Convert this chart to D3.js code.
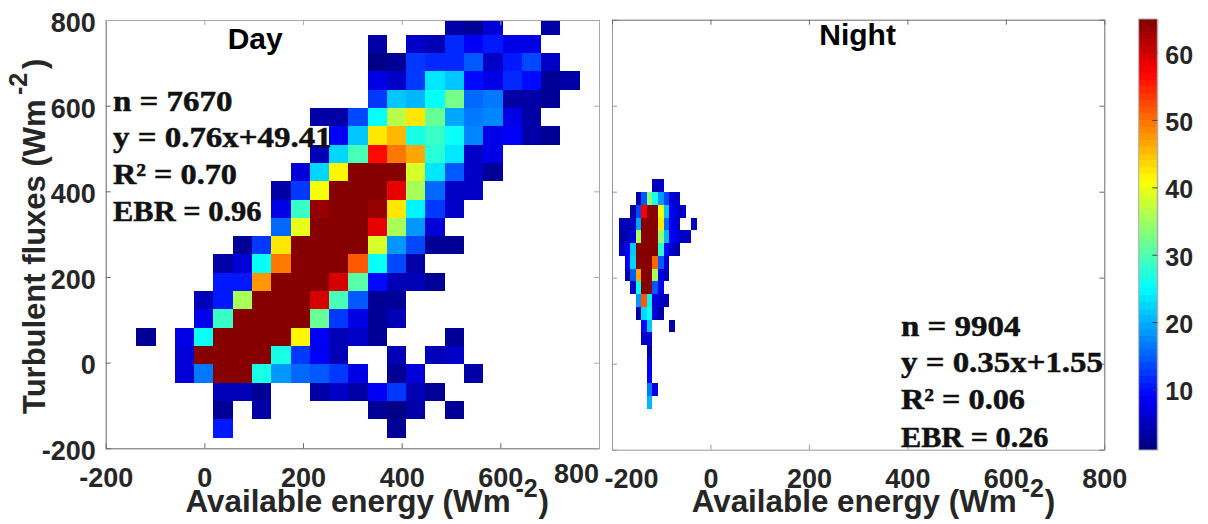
<!DOCTYPE html>
<html>
<head>
<meta charset="utf-8">
<script src="https://cdn.jsdelivr.net/npm/d3@7"></script>
<style>
  html, body { margin: 0; padding: 0; background: #fff; }
  svg { display: block; }
  text { font-family: "Liberation Sans", Arial, sans-serif; font-weight: bold; fill: #262626; }
  .note { font-family: "Liberation Serif", serif; font-size: 30px; fill: #111; stroke: #111; stroke-width: 0.5px; }
</style>
</head>
<body>
<script>
// tick labels
var axisTicks = [-200, 0, 200, 400, 600, 800];
var colorTicks = [10, 20, 30, 40, 50, 60];

// bin layout of the 2d histograms, in data units
var dayXStart = -137.97, dayBinW = 39.08, dayYTop = 808.5, dayBinH = 42.77;
var nightXStart = -208.4, nightBinW = 11.31, nightYTop = 428.8, nightBinH = 29.65;

// counts per bin, top row first, 0 = empty bin
var dayCounts = [
  [0,0,0,0,0,0,0,0,0,0,0,0,0,0,0,0,3,2,6,0,0,3,0],
  [0,0,0,0,0,0,0,0,0,0,0,0,3,0,5,4,11,8,10,7,7,0,0],
  [0,0,0,0,0,0,0,0,0,0,0,0,1,2,12,11,11,14,5,10,13,5,0],
  [0,0,0,0,0,0,0,0,0,0,0,0,7,5,12,23,21,9,7,11,9,2,3],
  [0,0,0,0,0,0,0,0,0,0,0,0,12,21,20,25,32,15,16,3,3,2,0],
  [0,0,0,0,0,0,0,0,0,3,3,13,25,36,42,31,19,16,17,7,3,0,0],
  [0,0,0,0,0,0,0,0,0,0,8,21,42,45,26,28,25,17,7,8,3,2,0],
  [0,0,0,0,0,0,0,0,0,4,22,29,56,49,46,27,23,5,7,0,0,0,0],
  [0,0,0,0,0,0,0,0,6,22,41,65,65,65,38,23,14,5,2,0,0,0,0],
  [0,0,0,0,0,0,0,3,12,40,65,65,65,58,35,15,5,5,0,0,0,0,0],
  [0,0,0,0,0,0,0,7,28,63,65,65,63,42,24,12,5,0,0,0,0,0,0],
  [0,0,0,0,0,0,0,15,39,65,65,65,58,35,18,6,0,0,0,0,0,0,0],
  [0,0,0,0,0,2,12,42,65,65,65,65,38,18,13,2,2,0,0,0,0,0,0],
  [0,0,0,0,3,6,25,49,65,65,65,51,25,13,3,0,0,0,0,0,0,0,0],
  [0,0,0,0,10,10,47,65,65,65,59,30,9,4,4,2,0,0,0,0,0,0,0],
  [0,0,0,4,10,35,65,65,65,59,29,14,2,2,0,0,0,0,0,0,0,0,0],
  [0,0,0,7,28,65,65,65,65,31,12,7,2,4,0,0,0,0,0,0,0,0,0],
  [2,0,7,25,65,65,65,65,41,8,4,5,2,0,0,0,2,0,0,0,0,0,0],
  [0,0,6,65,65,65,65,26,12,8,4,0,0,4,0,4,5,0,0,0,0,0,0],
  [0,0,6,16,65,65,26,18,15,14,12,7,0,2,6,0,0,3,0,0,0,0,0],
  [0,0,0,0,4,4,2,0,0,3,5,3,8,12,4,2,0,0,0,0,0,0,0],
  [0,0,0,0,2,0,3,0,0,0,0,0,2,1,3,0,2,0,0,0,0,0,0],
  [0,0,0,0,10,0,0,0,0,0,0,0,0,2,0,0,0,0,0,0,0,0,0]
];

var nightCounts = [
  [0,0,0,0,0,0,0,0,4,5,0,0,0,0,0,0],
  [0,0,0,0,0,3,14,33,26,18,13,6,5,0,0,0],
  [0,0,0,0,3,13,57,65,65,40,21,8,5,5,0,0],
  [7,0,4,4,5,19,65,65,65,42,15,8,5,0,0,5],
  [0,0,3,4,6,35,65,65,65,34,20,8,6,5,5,0],
  [0,0,5,8,21,65,65,65,65,27,9,5,3,0,0,0],
  [0,0,0,8,22,65,65,65,50,14,6,0,0,0,0,0],
  [0,0,0,3,14,46,65,65,35,7,4,0,0,0,0,0],
  [0,0,0,0,5,25,65,65,14,8,0,0,0,0,0,0],
  [0,0,0,0,0,18,51,24,6,5,4,0,0,0,0,0],
  [0,0,0,0,0,3,22,25,6,3,0,0,0,0,0,0],
  [0,0,0,0,0,0,9,21,0,0,0,3,0,0,0,0],
  [0,0,0,0,0,0,5,6,0,0,0,0,0,0,0,0],
  [0,0,0,0,0,0,0,3,0,0,0,0,0,0,0,0],
  [0,0,0,0,0,0,0,8,0,0,0,0,0,0,0,0],
  [0,0,0,0,0,0,0,8,0,0,0,0,0,0,0,0],
  [0,0,0,0,0,0,0,16,7,0,0,0,0,0,0,0],
  [0,0,0,0,0,0,0,20,0,0,0,0,0,0,0,0]
];

var dayNotes = ['n = 7670', 'y = 0.76x+49.41', 'R² = 0.70', 'EBR = 0.96'];
var nightNotes = ['n = 9904', 'y = 0.35x+1.55', 'R² = 0.06', 'EBR = 0.26'];


var w = 1208;
var h = 524;

var svg = d3.select('body')
  .append('svg')
  .attr('width', w)
  .attr('height', h);

// matlab jet, 64 levels over 1..65
var clip01 = function(v) { return Math.max(0, Math.min(1, v)); };
var jetLevels = d3.range(64).map(function(i) {
  var t = (i + 0.5) / 64;
  return d3.rgb(
    255 * clip01(1.5 - Math.abs(4 * t - 3)),
    255 * clip01(1.5 - Math.abs(4 * t - 2)),
    255 * clip01(1.5 - Math.abs(4 * t - 1))
  ).formatHex();
});
var color = d3.scaleQuantize().domain([1, 65]).range(jetLevels);

// plain hyphen in the labels, like the figure
var plainLabel = function(d) { return String(d); };

var drawPanel = function(p) {
  var x = d3.scaleLinear().domain([-200, 800]).range([p.left, p.right]).clamp(true);
  var y = d3.scaleLinear().domain([-200, 800]).range([p.bottom, p.top]).clamp(true);

  // flatten the matrix, keep filled bins only
  var cells = [];
  p.counts.forEach(function(row, r) {
    row.forEach(function(v, c) {
      if (v > 0) cells.push({r: r, c: c, v: v});
    });
  });

  var g = svg.append('g');

  g.selectAll('rect')
    .data(cells)
    .enter()
    .append('rect')
    .attr('x', function(d) { return x(p.xStart + d.c * p.binW); })
    .attr('width', function(d) { return x(p.xStart + (d.c + 1) * p.binW) - x(p.xStart + d.c * p.binW); })
    .attr('y', function(d) { return y(p.yTop - d.r * p.binH); })
    .attr('height', function(d) { return y(p.yTop - (d.r + 1) * p.binH) - y(p.yTop - d.r * p.binH); })
    .attr('fill', function(d) { return color(d.v); })
    .attr('shape-rendering', 'crispEdges');

  // box: bottom, left, top, right, ticks pointing inward
  var bottom = g.append('g')
    .attr('transform', 'translate(0,' + p.bottom + ')')
    .call(d3.axisBottom(x).tickValues(axisTicks).tickSize(-5).tickSizeOuter(0).tickPadding(19.5)
      .tickFormat(plainLabel));
  var left = g.append('g')
    .attr('transform', 'translate(' + p.left + ',0)')
    .call(d3.axisLeft(y).tickValues(axisTicks).tickSize(-5).tickSizeOuter(0).tickPadding(10)
      .tickFormat(p.yLabels ? plainLabel : ''));
  var top = g.append('g')
    .attr('transform', 'translate(0,' + p.top + ')')
    .call(d3.axisTop(x).tickValues(axisTicks).tickSize(-5).tickSizeOuter(0).tickFormat(''));
  var right = g.append('g')
    .attr('transform', 'translate(' + p.right + ',0)')
    .call(d3.axisRight(y).tickValues(axisTicks).tickSize(-5).tickSizeOuter(0).tickFormat(''));

  bottom.selectAll('.domain, line').attr('stroke', p.lowColor);
  left.selectAll('.domain, line').attr('stroke', p.lowColor);
  top.selectAll('.domain, line').attr('stroke', p.highColor);
  right.selectAll('.domain, line').attr('stroke', p.highColor);

  bottom.selectAll('text')
    .attr('font-size', 27)
    .attr('font-family', null)
    .attr('transform', function(d) {
      if (d === -200) return 'translate(' + p.shiftFirst + ',0)';
      if (d === 800) return 'translate(' + p.shiftLast[0] + ',' + p.shiftLast[1] + ')';
      return null;
    });
  left.selectAll('text')
    .attr('font-size', 27)
    .attr('font-family', null)
    .attr('dy', '0.42em');

  svg.append('text')
    .attr('x', p.titleX)
    .attr('y', p.titleY)
    .attr('font-size', 30)
    .style('fill', '#000')
    .text(p.title);

  g.selectAll('text.note')
    .data(p.notes)
    .enter()
    .append('text')
    .attr('class', 'note')
    .attr('x', p.noteX)
    .attr('y', function(d, i) { return p.noteY[i]; })
    .attr('textLength', function(d, i) { return p.noteLen[i]; })
    .attr('lengthAdjust', 'spacingAndGlyphs')
    .text(function(d) { return d; });

  // x title, exponent set by hand like in the figure
  var xt = p.xTitleX;
  svg.append('text').attr('x', xt).attr('y', 511.7).attr('font-size', 31.4).text('Available energy (Wm');
  svg.append('text').attr('x', xt + 330).attr('y', 496.7).attr('font-size', 25).text('-2');
  svg.append('text').attr('x', xt + 353).attr('y', 511.7).attr('font-size', 31.4).text(')');
};

drawPanel({
  left: 105.7, right: 599, top: 20, bottom: 448.3,
  counts: dayCounts, xStart: dayXStart, binW: dayBinW, yTop: dayYTop, binH: dayBinH,
  lowColor: '#666', highColor: '#a8a8a8',
  yLabels: true, shiftFirst: 0, shiftLast: [-23, -4],
  title: 'Day', titleX: 227.7, titleY: 49.3,
  notes: dayNotes, noteX: 113, noteY: [110.7, 146.7, 184, 220.7], noteLen: [119.5, 218.7, 124, 148.5],
  xTitleX: 185.5
});

drawPanel({
  left: 612, right: 1104.3, top: 19.7, bottom: 449.7,
  counts: nightCounts, xStart: nightXStart, binW: nightBinW, yTop: nightYTop, binH: nightBinH,
  lowColor: '#999', highColor: '#6a6a6a',
  yLabels: false, shiftFirst: 19, shiftLast: [0, 0],
  title: 'Night', titleX: 819.3, titleY: 45,
  notes: nightNotes, noteX: 901, noteY: [336, 371.7, 409.3, 446.7], noteLen: [119.5, 202, 124, 147.5],
  xTitleX: 691.7
});

// y title, rotated
var yTitle = svg.append('g').attr('transform', 'translate(45,414) rotate(-90)');
yTitle.append('text').attr('font-size', 31).text('Turbulent fluxes (Wm');
yTitle.append('text').attr('x', 319).attr('y', -18).attr('font-size', 25).text('-2');
yTitle.append('text').attr('x', 345).attr('font-size', 31).text(')');

// colorbar
var cbar = d3.scaleLinear().domain([1, 65]).range([450, 19]);
var cbarX = 1138.7, cbarW = 18.6;

svg.append('g')
  .selectAll('rect')
  .data(jetLevels)
  .enter()
  .append('rect')
  .attr('x', cbarX)
  .attr('width', cbarW)
  .attr('y', function(d, i) { return cbar(i + 2); })
  .attr('height', function(d, i) { return cbar(i + 1) - cbar(i + 2); })
  .attr('fill', function(d) { return d; })
  .attr('shape-rendering', 'crispEdges');

svg.append('rect')
  .attr('x', cbarX)
  .attr('y', 19)
  .attr('width', cbarW)
  .attr('height', 431)
  .attr('fill', 'none')
  .attr('stroke', '#aaa');

var cbarAxis = svg.append('g')
  .attr('transform', 'translate(' + (cbarX + cbarW) + ',0)')
  .call(d3.axisRight(cbar).tickValues(colorTicks).tickSize(-5).tickSizeOuter(0).tickPadding(8));
cbarAxis.select('.domain').attr('stroke', '#aaa');
cbarAxis.selectAll('line').attr('stroke', '#444');
cbarAxis.selectAll('text')
  .attr('font-size', 25)
  .attr('font-family', null)
  .attr('dy', '0.42em');
</script>
</body>
</html>
